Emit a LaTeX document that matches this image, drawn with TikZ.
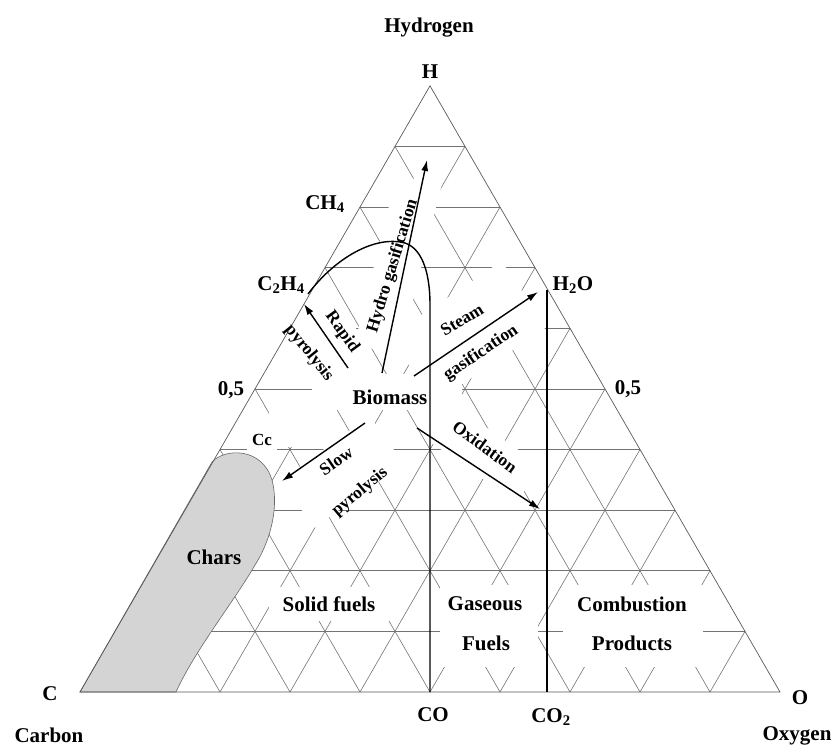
\documentclass[tikz,border=0pt]{standalone}
\usepackage{fontspec}
\setmainfont{Liberation Serif}
\usetikzlibrary{calc,arrows.meta}
\begin{document}
\begin{tikzpicture}[x=1pt,y=-1pt,
  gridline/.style={draw=black!55, line width=0.6pt},
  edgeline/.style={draw=black!65, line width=0.7pt},
  heavyline/.style={draw=black, line width=1.4pt},
  arr/.style={heavyline, -{Latex[length=11pt,width=7pt]}},
  lab/.style={font=\fontsize{21}{24}\selectfont\bfseries, inner sep=1pt},
  slab/.style={font=\fontsize{17.5}{20}\selectfont\bfseries, inner sep=1pt},
  eraser/.style={fill=white, draw=none, inner sep=0pt},
]
\useasboundingbox (0,0) rectangle (835,748);
% corners
\coordinate (C) at (80,692);
\coordinate (O) at (780,692);
\coordinate (H) at (430,85.8);
% grid
\foreach \i in {1,...,9} {
  \draw[gridline] ($(C)!\i/10!(H)$) -- ($(O)!\i/10!(H)$);
  \draw[gridline] ($(C)!\i/10!(O)$) -- ($(O)!{1-\i/10}!(H)$);
  \draw[gridline] ($(C)!\i/10!(O)$) -- ($(C)!\i/10!(H)$);
}
% erased areas behind labels
\node[eraser, minimum width=150pt, minimum height=36pt] (eBio) at (387,392) {};
\node[eraser, minimum width=85pt, minimum height=60pt, rotate=-55] (eRap) at (326,338) {};
\node[eraser, minimum width=175pt, minimum height=46pt, rotate=76] (eHyd) at (398,265) {};
\node[eraser, minimum width=135pt, minimum height=80pt, rotate=34] (eSte) at (468,332) {};
\node[eraser, minimum width=112pt, minimum height=44pt, rotate=-35] (eOxi) at (483,452) {};
\node[eraser, minimum width=110pt, minimum height=58pt, rotate=36] (eSlo) at (342,472) {};
\node[eraser, minimum width=62pt, minimum height=48pt] (eLeft) at (300,423) {};
\node[eraser, minimum width=30pt, minimum height=22pt] (eCc) at (262,440) {};
\node[eraser, minimum width=122pt, minimum height=34pt] (eSol) at (330,604) {};
\node[eraser, minimum width=98pt, minimum height=82pt] (eGas) at (489,626) {};
\node[eraser, minimum width=140pt, minimum height=82pt] (eCom) at (633,626) {};
% chars region
\draw[fill=black!17, draw=black!60, line width=0.6pt]
  (C) -- (212,462) .. controls (225,448) and (262,447) .. (272,480)
  .. controls (280,510) and (268,545) .. (255,565)
  .. controls (235,600) and (195,650) .. (176,692) -- cycle;
% triangle outline
\draw[edgeline] (C) -- (O) -- (H) -- cycle;
% composition lines
\coordinate (CO) at (430,692);
\coordinate (CO2) at (547,692);
\coordinate (h2opt) at (547,290);
\coordinate (c2h4pt) at (308,294);
\coordinate (peak) at (405,243);
\coordinate (cotop) at (430,305);
\draw[heavyline] (c2h4pt) .. controls (335,258) and (375,235) .. (peak)
  .. controls (420,248) and (430,268) .. (cotop) -- (CO);
\draw[heavyline] (h2opt) -- (CO2);
% arrows
\coordinate (rpT) at (348,368); \coordinate (rpH) at (304,304);
\coordinate (hgT) at (382,373); \coordinate (hgH) at (427,160);
\coordinate (sgT) at (414,376); \coordinate (sgH) at (538,292);
\coordinate (oxT) at (417,428); \coordinate (oxH) at (540,509);
\coordinate (spT) at (365,423); \coordinate (spH) at (282,481);
\draw[arr] (rpT) -- (rpH);
\draw[arr] (hgT) -- (hgH);
\draw[arr] (sgT) -- (sgH);
\draw[arr] (oxT) -- (oxH);
\draw[arr] (spT) -- (spH);
% arrow labels
\node[slab, rotate=-54] (rapid) at (342,332) {Rapid};
\node[slab, rotate=-51] (pyro1) at (309,353) {pyrolysis};
\node[slab, rotate=73] (hydro) at (393,266) {Hydro gasification};
\node[slab, rotate=31] (steam) at (462,320) {Steam};
\node[slab, rotate=34] (gasif) at (481,353) {gasification};
\node[slab, rotate=-36] (oxid) at (485,447) {Oxidation};
\node[slab, rotate=34] (slow) at (336,461) {Slow};
\node[slab, rotate=40] (pyro2) at (360,492) {pyrolysis};
% main labels
\node[lab] (bio) at (390,397) {Biomass};
\node[lab] (chars) at (214,557) {Chars};
\node[lab] (solid) at (329,604) {Solid fuels};
\node[lab] (gas1) at (485,604) {Gaseous};
\node[lab] (gas2) at (486,643) {Fuels};
\node[lab] (com1) at (632,604) {Combustion};
\node[lab] (com2) at (632,643) {Products};
% species and scale labels
\node[lab] (ch4) at (325,204) {CH\textsubscript{4}};
\node[lab] (c2h4) at (281,285) {C\textsubscript{2}H\textsubscript{4}};
\node[lab] (h2o) at (573,285) {H\textsubscript{2}O};
\node[lab] (cc) at (262,440) {\fontsize{17}{20}\selectfont Cc};
\node[lab] (half1) at (231,390) {0,5};
\node[lab] (half2) at (628,389) {0,5};
\node[lab] (co) at (433,715) {CO};
\node[lab] (co2) at (551,717) {CO\textsubscript{2}};
% corner labels
\node[lab] (hl) at (430,72) {H};
\node[lab] (hyd) at (429,28) {Hydrogen};
\node[lab] (cl) at (50,694) {C};
\node[lab] (carb) at (49,735) {Carbon};
\node[lab] (ol) at (800,698) {O};
\node[lab] (oxy) at (797,736) {Oxygen};
\end{tikzpicture}
\end{document}
